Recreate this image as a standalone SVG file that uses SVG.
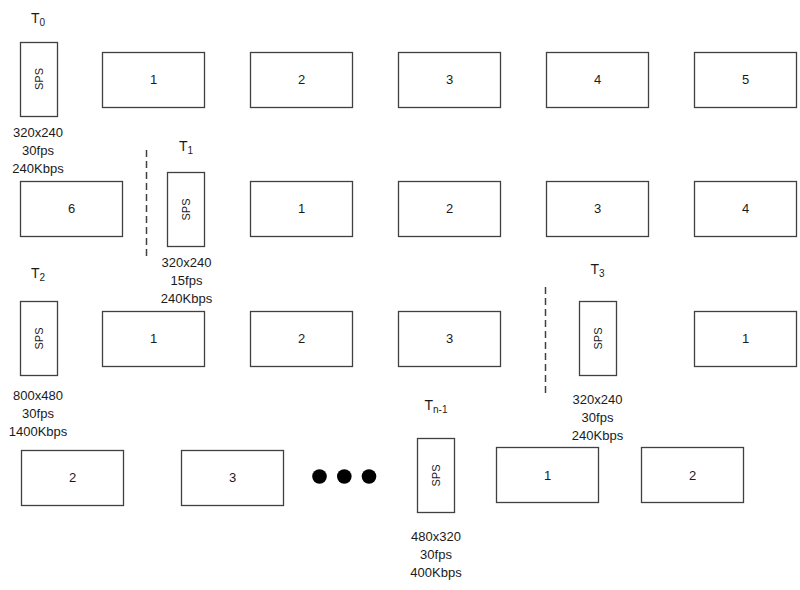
<svg xmlns="http://www.w3.org/2000/svg" width="800" height="590" viewBox="0 0 800 590">
<style>
.box{fill:#fff;stroke:#404040;stroke-width:1.3}
.t{font-family:"Liberation Sans",Arial,sans-serif;font-size:13px;fill:#1a1a1a;text-anchor:middle}
.sps{font-family:"Liberation Sans",Arial,sans-serif;font-size:11px;fill:#1a1a1a;text-anchor:middle}
.lbl{font-family:"Liberation Sans",Arial,sans-serif;font-size:14px;fill:#1a1a1a;text-anchor:middle}
.sub{font-size:10px}
.dash{stroke:#404040;stroke-width:1.5;stroke-dasharray:7 4;fill:none}
</style>
<rect width="800" height="590" fill="#fff"/>
<g id="connectors">
<line class="dash" x1="146.5" y1="150" x2="146.5" y2="260"/>
<line class="dash" x1="545.5" y1="287" x2="545.5" y2="397"/>
</g>
<!-- Row 1 -->
<g id="T0">
<text class="lbl" x="38" y="23">T<tspan class="sub" dy="3">0</tspan></text>
<rect class="box" x="20.5" y="42.5" width="37" height="74"/>
<text class="sps" transform="translate(38.5 79) rotate(-90)" dy="4">SPS</text>
<text class="t" x="38" y="136.5">320x240</text>
<text class="t" x="38" y="154.5">30fps</text>
<text class="t" x="38" y="172.5">240Kbps</text>
</g>
<g id="r1b1"><rect class="box" x="102.5" y="52.5" width="102" height="55"/><text class="t" x="153.5" y="84">1</text></g>
<g id="r1b2"><rect class="box" x="250.5" y="52.5" width="102" height="55"/><text class="t" x="301.5" y="84">2</text></g>
<g id="r1b3"><rect class="box" x="398.5" y="52.5" width="102" height="55"/><text class="t" x="449.5" y="84">3</text></g>
<g id="r1b4"><rect class="box" x="546.5" y="52.5" width="102" height="55"/><text class="t" x="597.5" y="84">4</text></g>
<g id="r1b5"><rect class="box" x="694.5" y="52.5" width="102" height="55"/><text class="t" x="745.5" y="84">5</text></g>
<!-- Row 2 -->
<g id="r2b6"><rect class="box" x="20.5" y="181.5" width="102" height="55"/><text class="t" x="71.5" y="213">6</text></g>
<g id="T1">
<text class="lbl" x="186" y="150.5">T<tspan class="sub" dy="3">1</tspan></text>
<rect class="box" x="167.5" y="172.5" width="37" height="74"/>
<text class="sps" transform="translate(186 209.5) rotate(-90)" dy="4">SPS</text>
<text class="t" x="186.5" y="266.5">320x240</text>
<text class="t" x="186.5" y="284.5">15fps</text>
<text class="t" x="186.5" y="302.5">240Kbps</text>
</g>
<g id="r2b1"><rect class="box" x="250.5" y="181.5" width="102" height="55"/><text class="t" x="301.5" y="213">1</text></g>
<g id="r2b2"><rect class="box" x="398.5" y="181.5" width="102" height="55"/><text class="t" x="449.5" y="213">2</text></g>
<g id="r2b3"><rect class="box" x="546.5" y="181.5" width="102" height="55"/><text class="t" x="597.5" y="213">3</text></g>
<g id="r2b4"><rect class="box" x="694.5" y="181.5" width="102" height="55"/><text class="t" x="745.5" y="213">4</text></g>
<!-- Row 3 -->
<g id="T2">
<text class="lbl" x="38" y="277.5">T<tspan class="sub" dy="3">2</tspan></text>
<rect class="box" x="20.5" y="301.5" width="37" height="74"/>
<text class="sps" transform="translate(38.5 338.5) rotate(-90)" dy="4">SPS</text>
<text class="t" x="38" y="399.5">800x480</text>
<text class="t" x="38" y="417.5">30fps</text>
<text class="t" x="38" y="435.5">1400Kbps</text>
</g>
<g id="r3b1"><rect class="box" x="102.5" y="311.5" width="102" height="55"/><text class="t" x="153.5" y="343">1</text></g>
<g id="r3b2"><rect class="box" x="250.5" y="311.5" width="102" height="55"/><text class="t" x="301.5" y="343">2</text></g>
<g id="r3b3"><rect class="box" x="398.5" y="311.5" width="102" height="55"/><text class="t" x="449.5" y="343">3</text></g>
<g id="T3">
<text class="lbl" x="597.5" y="273.5">T<tspan class="sub" dy="3">3</tspan></text>
<rect class="box" x="579.5" y="301.5" width="37" height="74"/>
<text class="sps" transform="translate(598 338.5) rotate(-90)" dy="4">SPS</text>
<text class="t" x="597.5" y="403.5">320x240</text>
<text class="t" x="597.5" y="421.5">30fps</text>
<text class="t" x="597.5" y="439.5">240Kbps</text>
</g>
<g id="r3b4"><rect class="box" x="694.5" y="311.5" width="102" height="55"/><text class="t" x="745.5" y="343">1</text></g>
<!-- Row 4 -->
<g id="r4b2"><rect class="box" x="21.5" y="450.5" width="102" height="55"/><text class="t" x="72.5" y="482">2</text></g>
<g id="r4b3"><rect class="box" x="181.5" y="450.5" width="102" height="55"/><text class="t" x="232.5" y="482">3</text></g>
<g id="ellipsis" fill="#000">
<circle cx="319.5" cy="476.5" r="7.3"/>
<circle cx="344.3" cy="476.5" r="7.3"/>
<circle cx="369" cy="476.5" r="7.3"/>
</g>
<g id="Tn-1">
<text class="lbl" x="436" y="409.5">T<tspan class="sub" dy="3">n-1</tspan></text>
<rect class="box" x="417.5" y="438.5" width="37" height="74"/>
<text class="sps" transform="translate(436 475.5) rotate(-90)" dy="4">SPS</text>
<text class="t" x="436" y="540.5">480x320</text>
<text class="t" x="436" y="558.5">30fps</text>
<text class="t" x="436" y="576.5">400Kbps</text>
</g>
<g id="r4b1"><rect class="box" x="496.5" y="447.5" width="102" height="55"/><text class="t" x="547.5" y="479.5">1</text></g>
<g id="r4b2b"><rect class="box" x="641.5" y="447.5" width="102" height="55"/><text class="t" x="692.5" y="479.5">2</text></g>
</svg>
